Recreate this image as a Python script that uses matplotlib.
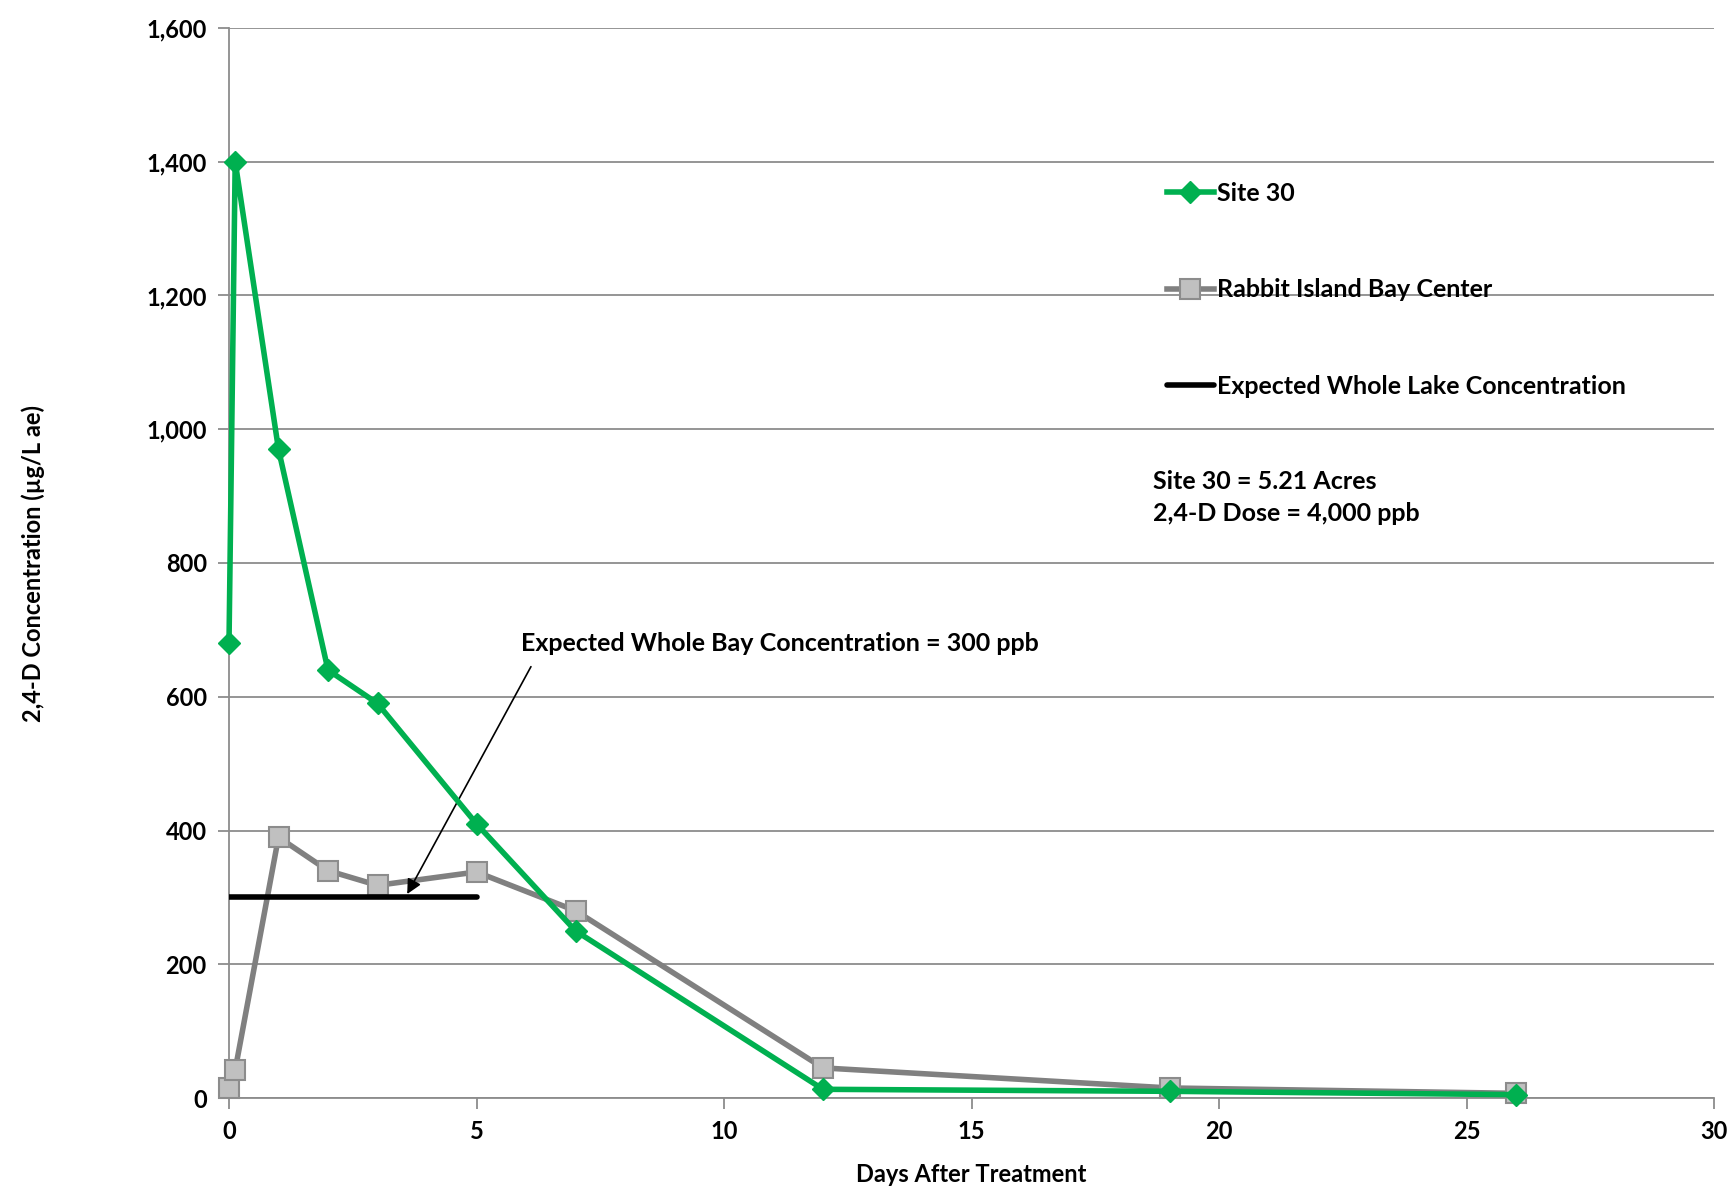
import matplotlib.pyplot as plt
from matplotlib.ticker import FuncFormatter

plt.rcParams['font.family'] = ['Lato', 'DejaVu Sans']
plt.rcParams['font.weight'] = 'bold'

# days after treatment
days = [0, 0.125, 1, 2, 3, 5, 7, 12, 19, 26]
site30 = [680, 1400, 970, 640, 590, 410, 250, 13, 10, 5]
rabbit_bay = [15, 42, 390, 340, 318, 338, 280, 45, 15, 7]

lake_days = [0, 5]
lake_conc = [300, 300]

fig = plt.figure(figsize=(17.33, 11.93), dpi=100)
ax = fig.add_axes([229 / 1733, 1 - 1098 / 1193, (1714 - 229) / 1733, (1098 - 28) / 1193])

ax.plot(days, site30, color='#00B050', lw=4, marker='D', ms=11,
        mfc='#00B050', mec='#00B050', label='Site 30', zorder=4, clip_on=False)
ax.plot(days, rabbit_bay, color='#808080', lw=4, marker='s', ms=14,
        mfc='#C0C0C0', mec='#8C8C8C', mew=1.5, label='Rabbit Island Bay Center',
        zorder=3, clip_on=False)
ax.plot(lake_days, lake_conc, color='black', lw=4, solid_capstyle='round',
        label='Expected Whole Lake Concentration', zorder=5)

ax.set_xlim(0, 30)
ax.set_ylim(0, 1600)
ax.set_xticks(range(0, 31, 5))
ax.set_yticks(range(0, 1601, 200))
ax.yaxis.set_major_formatter(FuncFormatter(lambda v, p: f'{int(v):,}'))
ax.grid(axis='y', color='#8C8C8C', lw=1.3)
ax.set_axisbelow(True)
for s in ['top', 'right']:
    ax.spines[s].set_visible(False)
for s in ['left', 'bottom']:
    ax.spines[s].set_color('#8C8C8C')
    ax.spines[s].set_linewidth(1.3)
ax.tick_params(axis='both', colors='#8C8C8C', length=8, width=1.3,
               labelcolor='black', labelsize=17, pad=8)

ax.set_xlabel('Days After Treatment', fontsize=17, fontweight='bold', labelpad=14)
ax.set_ylabel('2,4-D Concentration (µg/L ae)', fontsize=17, fontweight='bold', labelpad=73)

# annotation for the whole-bay line
ax.text(5.9, 680, 'Expected Whole Bay Concentration = 300 ppb',
        fontsize=18, fontweight='bold', ha='left', va='center')
ax.annotate('', xy=(3.6, 305), xytext=(6.1, 645),
            arrowprops=dict(arrowstyle='-|>', color='black', lw=1.2,
                            mutation_scale=22, shrinkA=0, shrinkB=0))

ax.text(0.622, 0.587, 'Site 30 = 5.21 Acres\n2,4-D Dose = 4,000 ppb', transform=ax.transAxes,
        fontsize=18, fontweight='bold', ha='left', va='top', linespacing=1.5)

ax.legend(loc='upper left', bbox_to_anchor=(0.623, 0.868), frameon=False, fontsize=18,
          handlelength=1.9, handletextpad=0.1, labelspacing=2.95, borderpad=0)

fig.savefig('out.png', dpi=100)
